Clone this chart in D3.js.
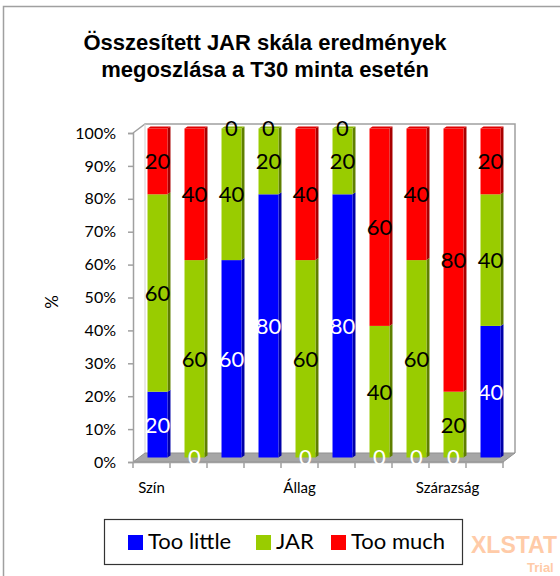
<!DOCTYPE html>
<html>
<head>
<meta charset="utf-8">
<script src="https://cdn.jsdelivr.net/npm/d3@7"></script>
<style>
  body { margin: 0; background: white; }
  svg { display: block; }
</style>
</head>
<body>
<div id="chart"></div>
<script>
var svgWidth = 560;
var svgHeight = 576;

// data (percent of answers)
var categories = ["Szín", "", "", "", "Állag", "", "", "", "Szárazság", ""];
var tooLittle = [20, 0, 60, 80, 0, 80, 0, 0, 0, 40];
var jar = [60, 60, 40, 20, 60, 20, 40, 60, 20, 40];
var tooMuch = [20, 40, 0, 0, 40, 0, 60, 40, 80, 20];
var seriesNames = ["Too little", "JAR", "Too much"];
var yTicks = [0, 10, 20, 30, 40, 50, 60, 70, 80, 90, 100];

var colors = ["#0000FF", "#99CC00", "#FF0000"];
var sideColors = ["#0000A8", "#5F7F00", "#A80000"];
var topColors = ["#3333FF", "#88B400", "#E00000"];
var labelColors = ["white", "black", "black"];

var font = "Lato, 'Open Sans', sans-serif";

// front plane of the 3d box
var plotLeft = 133, plotRight = 503, plotBottom = 462, plotTop = 133;
var depthX = 12, depthY = -9;

var svg = d3.select("#chart")
  .append("svg")
  .attr("width", svgWidth)
  .attr("height", svgHeight);

// outer chart border
svg.append("rect")
  .attr("x", 3.5).attr("y", 6.5)
  .attr("width", 600).attr("height", 600)
  .attr("fill", "white")
  .attr("stroke", "#a0a0a0")
  .attr("stroke-width", 1.5);

// title
var title = svg.append("text")
  .attr("text-anchor", "middle")
  .attr("font-family", "'Liberation Sans', Arial, sans-serif")
  .attr("font-weight", "bold")
  .attr("font-size", 22);
title.append("tspan").attr("x", 265).attr("y", 50).text("Összesített JAR skála eredmények");
title.append("tspan").attr("x", 265).attr("y", 77).text("megoszlása a T30 minta esetén");

var x = d3.scaleBand()
  .domain(d3.range(categories.length))
  .range([plotLeft, plotRight])
  .paddingInner(0.46)
  .paddingOuter(0.23);

var y = d3.scaleLinear()
  .domain([0, 100])
  .range([plotBottom, plotTop]);

// back wall and floor
var wallColor = "#a0a0a0";
svg.append("polyline")
  .attr("points", [[plotLeft, plotTop], [plotLeft + depthX, plotTop + depthY], [plotRight + depthX, plotTop + depthY], [plotRight + depthX, plotBottom + depthY]].join(" "))
  .attr("fill", "none")
  .attr("stroke", wallColor)
  .attr("stroke-width", 1.5);
svg.append("line")
  .attr("x1", plotLeft + depthX).attr("y1", plotTop + depthY)
  .attr("x2", plotLeft + depthX).attr("y2", plotBottom + depthY)
  .attr("stroke", "#d0d0d0");
svg.append("polygon")
  .attr("points", [[plotLeft, plotBottom], [plotRight, plotBottom], [plotRight + depthX, plotBottom + depthY], [plotLeft + depthX, plotBottom + depthY]].join(" "))
  .attr("fill", "#a6a6a6")
  .attr("stroke", "#909090")
  .attr("stroke-width", 1);

// y axis
var yAxis = svg.append("g")
  .attr("transform", `translate(${plotLeft},0)`)
  .call(d3.axisLeft(y).tickValues(yTicks).tickSize(5).tickFormat(d => d + "%"));
yAxis.select(".domain").attr("stroke", wallColor).attr("stroke-width", 1.5);
yAxis.selectAll(".tick line").attr("stroke", wallColor).attr("stroke-width", 1.5);
yAxis.selectAll("text")
  .attr("font-family", font)
  .attr("font-size", 16)
  .attr("fill", "black")
  .attr("x", -17);

svg.append("text")
  .attr("transform", "translate(58,302) rotate(-90)")
  .attr("text-anchor", "middle")
  .attr("font-family", font)
  .attr("font-size", 17)
  .text("%");

// x axis
var xAxis = svg.append("g")
  .attr("transform", `translate(0,${plotBottom})`)
  .call(d3.axisBottom(x).tickSize(0).tickFormat(i => categories[i]));
xAxis.select(".domain").attr("stroke", wallColor).attr("stroke-width", 1.5);
xAxis.selectAll("text")
  .attr("font-family", font)
  .attr("font-size", 15)
  .attr("fill", "black")
  .attr("dy", 0)
  .attr("y", 31);
var step = x.step();
xAxis.selectAll(".bound")
  .data(d3.range(categories.length + 1))
  .enter()
  .append("line")
  .attr("x1", i => plotLeft + i * step)
  .attr("x2", i => plotLeft + i * step)
  .attr("y1", 0)
  .attr("y2", 6)
  .attr("stroke", wallColor)
  .attr("stroke-width", 1.5);

// stack the series
var rows = categories.map((c, i) => ({ i: i, v: [tooLittle[i], jar[i], tooMuch[i]] }));
var bw = x.bandwidth();
var offX = depthX / 2, offY = depthY / 2;
var sideW = 3, sideH = -2;

var bars = svg.append("g");
rows.forEach(function(r) {
  var x0 = x(r.i) + offX;
  var acc = 0;
  var lastTop = null;
  r.v.forEach(function(v, s) {
    var yb = y(acc) + offY;
    var yt = y(acc + v) + offY;
    acc += v;
    if (v > 0) {
      bars.append("polygon")
        .attr("points", [[x0 + bw, yt], [x0 + bw + sideW, yt + sideH], [x0 + bw + sideW, yb + sideH], [x0 + bw, yb]].join(" "))
        .attr("fill", sideColors[s]);
      bars.append("rect")
        .attr("x", x0).attr("y", yt)
        .attr("width", bw).attr("height", yb - yt)
        .attr("fill", colors[s]);
      lastTop = { s: s, y: yt };
    }
  });
  if (lastTop) {
    bars.append("polygon")
      .attr("points", [[x0, lastTop.y], [x0 + sideW, lastTop.y + sideH], [x0 + bw + sideW, lastTop.y + sideH], [x0 + bw, lastTop.y]].join(" "))
      .attr("fill", topColors[lastTop.s]);
  }
});

// data labels
var labels = svg.append("g")
  .attr("font-family", font)
  .attr("font-size", 22)
  .attr("text-anchor", "middle");
rows.forEach(function(r) {
  var cx = x(r.i) + offX + bw / 2;
  var acc = 0;
  r.v.forEach(function(v, s) {
    var mid = y(acc + v / 2) + offY;
    acc += v;
    labels.append("text")
      .attr("x", cx)
      .attr("y", mid)
      .attr("dy", "0.36em")
      .attr("fill", labelColors[s])
      .text(v);
  });
});

// legend
var legend = svg.append("g");
legend.append("rect")
  .attr("x", 104.5).attr("y", 519.5)
  .attr("width", 358).attr("height", 45)
  .attr("fill", "white")
  .attr("stroke", "#333")
  .attr("stroke-width", 1.2);
var legendX = [128, 256, 331];
seriesNames.forEach(function(n, s) {
  legend.append("rect")
    .attr("x", legendX[s]).attr("y", 535)
    .attr("width", 15).attr("height", 15)
    .attr("fill", colors[s]);
  legend.append("text")
    .attr("x", legendX[s] + 20)
    .attr("y", 549)
    .attr("font-family", font)
    .attr("font-size", 22)
    .text(n);
});

// trial watermark
svg.append("text")
  .attr("x", 471).attr("y", 553)
  .attr("font-family", "'Liberation Sans', Arial, sans-serif")
  .attr("font-weight", "bold")
  .attr("font-size", 23)
  .attr("fill", "#FFCBA8")
  .text("XLSTAT");
svg.append("text")
  .attr("x", 527).attr("y", 572)
  .attr("font-family", "'Liberation Sans', Arial, sans-serif")
  .attr("font-weight", "bold")
  .attr("font-size", 13)
  .attr("fill", "#FFCBA8")
  .text("Trial");
</script>
</body>
</html>
